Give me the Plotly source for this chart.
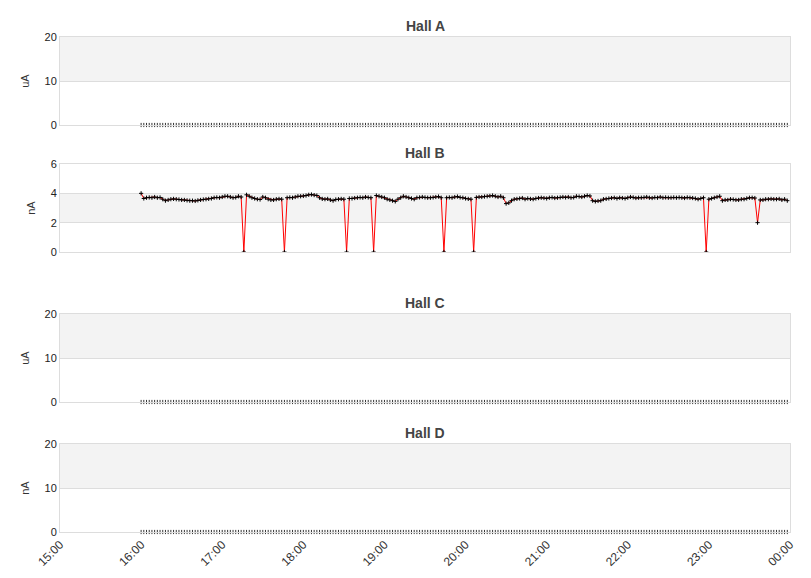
import plotly.graph_objects as go
import pandas as pd

titles = ["Hall A", "Hall B", "Hall C", "Hall D"]
units = ["uA", "nA", "uA", "nA"]
y_ranges = [[0, 20], [0, 6], [0, 20], [0, 20]]
y_dticks = [10, 2, 10, 10]
tick_labels = ["15:00", "16:00", "17:00", "18:00", "19:00", "20:00", "21:00", "22:00", "23:00", "00:00"]

times = pd.date_range("2024-01-01 16:00", periods=240, freq="2min")

hall_b = [
    4.0,3.65,3.7,3.72,3.7,3.75,3.7,3.72,3.6,3.5,3.55,3.6,3.62,3.6,3.58,3.55,3.55,3.52,3.5,3.5,3.48,3.52,3.55,3.58,3.6,3.62,3.65,3.7,3.72,3.7,
    3.75,3.8,3.8,3.75,3.7,3.72,3.8,3.75,0,3.9,3.8,3.7,3.65,3.6,3.58,3.75,3.7,3.6,3.55,3.55,3.6,3.62,3.6,0,3.7,3.72,3.7,3.75,3.8,3.8,
    3.82,3.85,3.9,3.92,3.88,3.85,3.7,3.62,3.6,3.62,3.55,3.5,3.58,3.6,3.62,3.6,0,3.65,3.65,3.68,3.7,3.72,3.7,3.75,3.72,3.7,0,3.85,3.8,3.75,
    3.7,3.6,3.55,3.5,3.45,3.6,3.7,3.8,3.75,3.7,3.65,3.6,3.7,3.72,3.75,3.72,3.7,3.7,3.72,3.75,3.78,3.7,0,3.7,3.72,3.7,3.75,3.78,3.72,3.7,
    3.65,3.62,3.6,0,3.72,3.75,3.75,3.78,3.8,3.82,3.85,3.8,3.75,3.8,3.7,3.3,3.35,3.5,3.6,3.62,3.65,3.68,3.6,3.65,3.62,3.6,3.65,3.68,3.7,3.68,
    3.65,3.7,3.72,3.68,3.7,3.72,3.75,3.72,3.75,3.7,3.72,3.8,3.78,3.75,3.8,3.85,3.82,3.5,3.45,3.48,3.5,3.6,3.62,3.65,3.68,3.7,3.65,3.7,3.68,3.65,
    3.7,3.75,3.72,3.68,3.7,3.7,3.72,3.75,3.7,3.68,3.72,3.7,3.75,3.7,3.72,3.7,3.7,3.72,3.7,3.72,3.7,3.68,3.72,3.7,3.68,3.65,3.6,3.65,3.7,0,
    3.6,3.65,3.7,3.75,3.8,3.5,3.55,3.55,3.6,3.58,3.55,3.55,3.6,3.6,3.65,3.7,3.7,3.68,2.0,3.55,3.55,3.6,3.6,3.62,3.6,3.6,3.62,3.55,3.6,3.5,
]
hall_a = [0] * 240
hall_c = [0] * 240
hall_d = [0] * 240
series = [hall_a, hall_b, hall_c, hall_d]

W, H = 811, 578
plot_px = [(29, 117), (156, 244), (306, 394), (436, 524)]
xdom = [52 / W, 782 / W]

fig = go.Figure()
tickvals = pd.date_range("2024-01-01 15:00", periods=10, freq="1h")

for i in range(4):
    n = "" if i == 0 else str(i + 1)
    xa, ya = "x" + n, "y" + n
    top, bot = plot_px[i]
    ydom = [1 - bot / H, 1 - top / H]
    if i == 1:
        fig.add_trace(go.Scatter(x=times, y=series[i], mode="lines+markers", xaxis=xa, yaxis=ya,
                                 line=dict(color="red", width=1),
                                 marker=dict(symbol="cross-thin", size=3, color="black",
                                             line=dict(color="black", width=1)),
                                 showlegend=False))
    else:
        fig.add_trace(go.Scatter(x=times, y=series[i], mode="markers", xaxis=xa, yaxis=ya,
                                 marker=dict(symbol="line-ns", size=3, color="black",
                                             line=dict(color="#333", width=1)),
                                 showlegend=False, cliponaxis=False))
    lo, hi = y_ranges[i]
    d = y_dticks[i]
    band = lo + d
    while band < hi:
        fig.add_shape(type="rect", xref=xa + " domain", yref=ya, x0=0, x1=1, y0=band, y1=band + d,
                      fillcolor="#f3f3f3", line_width=0, layer="below")
        band += 2 * d
    fig.layout["xaxis" + n] = dict(domain=xdom, anchor=ya, type="date", automargin=False,
                                   range=["2024-01-01 15:00", "2024-01-02 00:00"],
                                   tickvals=list(tickvals), ticktext=tick_labels,
                                   showticklabels=(i == 3), tickangle=-45,
                                   showgrid=False, showline=True, linecolor="#ddd",
                                   mirror=True, zeroline=False,
                                   tickfont=dict(size=12, color="#333"),
                                   matches=None if i == 0 else "x")
    fig.layout["yaxis" + n] = dict(domain=ydom, anchor=xa, range=[lo, hi], dtick=d, automargin=False,
                                   showgrid=True, gridcolor="#ddd", zeroline=False,
                                   showline=True, linecolor="#ddd", mirror=True,
                                   tickfont=dict(size=11, color="#222"),
                                   title=dict(text=units[i], font=dict(size=11, color="#333"), standoff=12))
    fig.add_annotation(text="<b>" + titles[i] + "</b>", xref="paper", yref="paper",
                       x=(xdom[0] + xdom[1]) / 2, y=1 - (top - 11) / H, showarrow=False,
                       font=dict(size=14, color="#444"), yanchor="middle")

fig.update_layout(width=W, height=H, margin=dict(l=0, r=0, t=0, b=0),
                  plot_bgcolor="white", paper_bgcolor="white",
                  font=dict(family="Liberation Sans, Arial, sans-serif"))
fig.write_html("out.html")
